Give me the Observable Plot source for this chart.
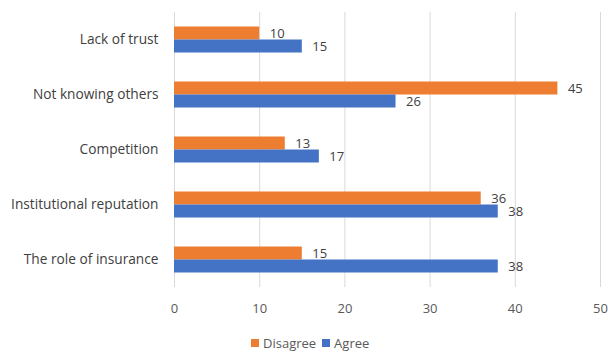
<!DOCTYPE html>
<html>
<head>
<meta charset="utf-8">
<script src="https://cdn.jsdelivr.net/npm/d3@7"></script>
<script src="https://cdn.jsdelivr.net/npm/@observablehq/plot@0.6"></script>
<style>
  body { margin: 0; background: #fff; }
  #chart svg { display: block; }
  #legend { display: flex; align-items: center; margin-left: 251px; height: 20px; margin-top: 8px;
    font-family: "Open Sans", sans-serif; font-size: 13px; color: #595959; }
  #legend .item { display: flex; align-items: center; margin-right: 6px; }
  #legend .sw { width: 8px; height: 8px; margin-right: 4px; }
</style>
</head>
<body>
<div id="chart"></div>
<div id="legend"></div>
<script>
const categories = ["Lack of trust", "Not knowing others", "Competition", "Institutional reputation", "The role of insurance"];
const series = ["Disagree", "Agree"];
const disagree = [10, 45, 13, 36, 15];
const agree = [15, 26, 17, 38, 38];
const xTicks = [0, 10, 20, 30, 40, 50];
const colors = ["#ED7D31", "#4472C4"];

const data = [];
categories.forEach((c, i) => {
  data.push({category: c, series: "Disagree", value: disagree[i]});
  data.push({category: c, series: "Agree", value: agree[i]});
});

const chart = Plot.plot({
  width: 608,
  height: 325,
  marginTop: 11.5,
  marginBottom: 37.5,
  marginLeft: 174,
  marginRight: 8,
  style: {fontFamily: "Open Sans, sans-serif", fontSize: "13px", color: "#595959", background: "#fff"},
  x: {domain: [0, 50], ticks: xTicks, label: null},
  y: {domain: series, axis: null, paddingInner: 0, paddingOuter: 0.975},
  fy: {domain: categories, padding: 0, label: null},
  color: {domain: series, range: colors},
  marks: [
    Plot.gridX(xTicks, {stroke: "#d9d9d9", strokeOpacity: 1, strokeWidth: 1}),
    Plot.barX(data, {x: "value", y: "series", fy: "category", fill: "series"}),
    Plot.text(data, {x: "value", y: "series", fy: "category", text: d => String(d.value), textAnchor: "start", dx: 10, fill: "#404040", fontSize: 13}),
    Plot.axisX({ticks: xTicks, tickSize: 0, tickPadding: 16, label: null, fontSize: 13, tickFormat: d => String(d)}),
    Plot.axisFy({anchor: "left", tickSize: 0, tickPadding: 16, label: null, fill: "#404040", fontSize: 13.7})
  ]
});
document.getElementById("chart").appendChild(chart);

const legend = document.getElementById("legend");
series.forEach((s, i) => {
  const item = document.createElement("div");
  item.className = "item";
  const sw = document.createElement("div");
  sw.className = "sw";
  sw.style.background = colors[i];
  const t = document.createElement("span");
  t.textContent = s;
  item.appendChild(sw);
  item.appendChild(t);
  legend.appendChild(item);
});
</script>
</body>
</html>
